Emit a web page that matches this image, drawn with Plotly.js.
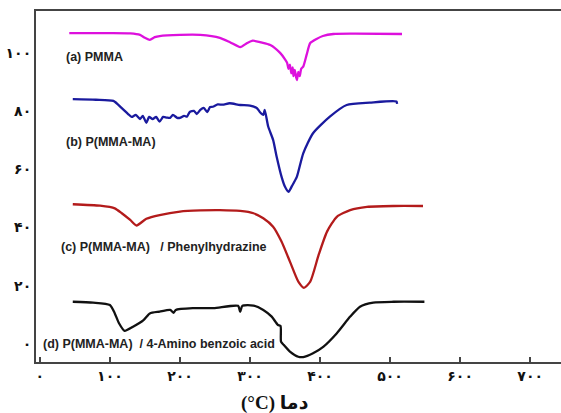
<!DOCTYPE html>
<html><head><meta charset="utf-8">
<script src="https://cdn.plot.ly/plotly-3.0.1.min.js"></script>
<style>html,body{margin:0;padding:0;background:#fff}#plot{width:561px;height:413px}</style>
</head><body><div id="plot"></div>
<script>
// Data (x: temperature °C, y: offset signal)
const xTickVals = [0, 100, 200, 300, 400, 500, 600, 700];
const xTickText = ['۰', '۱۰۰', '۲۰۰', '۳۰۰', '۴۰۰', '۵۰۰', '۶۰۰', '۷۰۰'];
const yTickVals = [0, 20, 40, 60, 80, 100];
const yTickText = ['۰', '۲۰', '۴۰', '۶۰', '۸۰', '۱۰۰'];

const seriesNames = ['(a) PMMA', '(b) P(MMA-MA)', '(c) P(MMA-MA)   / Phenylhydrazine', '(d) P(MMA-MA)  / 4-Amino benzoic acid'];

const pmmaX = [42, 100, 129, 143, 150, 157, 164, 171, 200, 229, 257, 272, 286, 296, 304, 316, 329, 343, 350, 353, 355, 357, 359, 361, 362, 364, 366, 367, 369, 371, 373, 376, 381, 386, 395, 404, 419, 450, 517];
const pmmaY = [106.8, 106.8, 106.7, 106.2, 105.2, 104.5, 105.4, 105.8, 106.2, 106.2, 105.2, 103.6, 102.0, 103.4, 104.2, 103.6, 102.7, 100.0, 97.8, 96.6, 94.5, 96.0, 93.0, 95.0, 92.0, 94.2, 91.5, 90.7, 93.5, 92.0, 94.5, 95.3, 99.5, 103.4, 104.8, 105.8, 106.5, 106.6, 106.5];

const pmaX = [47, 80, 105, 117, 126, 131, 137, 143, 147, 152, 156, 161, 166, 171, 176, 181, 186, 190, 196, 200, 206, 210, 214, 220, 224, 229, 234, 239, 243, 247, 254, 261, 271, 286, 300, 310, 314, 319, 321, 326, 333, 338, 345, 350, 355, 360, 367, 376, 390, 414, 438, 471, 509, 510];
const pmaY = [84.1, 83.9, 83.5, 81.0, 79.0, 78.0, 78.7, 77.3, 78.4, 76.0, 78.0, 77.3, 78.0, 76.4, 78.0, 77.8, 77.7, 78.7, 77.7, 77.7, 78.4, 78.1, 79.7, 80.1, 79.0, 80.4, 81.1, 79.7, 81.4, 81.5, 82.3, 82.2, 82.7, 82.1, 81.9, 81.0, 79.7, 78.7, 80.4, 74.7, 70.1, 64.4, 57.5, 54.0, 52.3, 54.3, 57.5, 65.5, 72.4, 78.1, 82.1, 82.9, 83.3, 82.5];

const phX = [47, 86, 107, 117, 129, 138, 152, 171, 200, 229, 257, 286, 305, 319, 333, 345, 357, 369, 377, 386, 398, 410, 424, 443, 467, 505, 547];
const phY = [48.0, 47.5, 46.6, 44.9, 42.6, 40.7, 43.0, 44.3, 45.5, 45.9, 46.0, 45.7, 44.9, 43.2, 40.3, 35.2, 28.3, 21.4, 19.3, 21.4, 30.6, 38.6, 43.7, 46.0, 47.1, 47.4, 47.4];

const abaX = [47, 76, 100, 107, 113, 121, 133, 148, 157, 171, 186, 191, 194, 219, 248, 283, 286, 289, 305, 319, 331, 340, 343.6, 344.3, 348, 357, 369, 376, 390, 405, 424, 443, 457, 476, 505, 549];
const abaY = [14.5, 14.2, 13.4, 10.5, 7.1, 4.5, 5.9, 8.2, 10.5, 11.1, 11.7, 10.7, 11.7, 12.3, 12.3, 13.1, 11.0, 13.1, 13.2, 11.7, 9.4, 6.5, 6.2, 0.8, -0.3, -2.6, -4.4, -4.5, -3.2, -0.9, 3.7, 9.4, 12.8, 14.2, 14.5, 14.5];

const colors = ['#dd10dd', '#1a1a9e', '#b31b1b', '#111111'];
const labelPos = [[35, 98.6], [35, 69.4], [27, 33.4], [2, 0]];

const xs = [pmmaX, pmaX, phX, abaX];
const ys = [pmmaY, pmaY, phY, abaY];
const traces = xs.map((x, i) => ({
  x: x, y: ys[i], type: 'scatter', mode: 'lines', name: seriesNames[i],
  line: {color: colors[i], width: 2.3, shape: 'spline', smoothing: 0.6},
  showlegend: false, hoverinfo: 'skip'
}));

const labelFont = {family: 'Liberation Sans, Arial, sans-serif', size: 12.5, color: '#222', weight: 'bold'};
const annotations = seriesNames.map((n, i) => ({
  x: labelPos[i][0], y: labelPos[i][1], xref: 'x', yref: 'y', text: n,
  showarrow: false, xanchor: 'left', yanchor: 'middle', font: labelFont
}));
annotations.push({
  x: 0.455, y: 0, xref: 'paper', yref: 'paper', yshift: -41, text: '(°C) دما',
  showarrow: false, xanchor: 'center', yanchor: 'middle',
  font: {family: 'Liberation Serif, DejaVu Sans, serif', size: 19, color: '#111', weight: 'bold'}
});

const layout = {
  width: 561, height: 413,
  margin: {l: 36, r: 0, t: 11, b: 51},
  paper_bgcolor: '#fff', plot_bgcolor: '#fff',
  xaxis: {
    range: [-5.5, 744], tickvals: xTickVals, ticktext: xTickText,
    ticks: 'inside', ticklen: 5, tickwidth: 1.5, tickcolor: '#444',
    showline: true, linecolor: '#444', linewidth: 2, mirror: true,
    showgrid: false, zeroline: false,
    tickfont: {family: 'DejaVu Sans, sans-serif', size: 14, color: '#111', weight: 'bold'}
  },
  yaxis: {
    range: [-6.2, 114.4], tickvals: yTickVals, ticktext: yTickText,
    ticks: '', showline: true, linecolor: '#444', linewidth: 2,
    showgrid: false, zeroline: false,
    tickfont: {family: 'DejaVu Sans, sans-serif', size: 14, color: '#111', weight: 'bold'}
  },
  annotations: annotations
};
Plotly.newPlot('plot', traces, layout, {displayModeBar: false, staticPlot: true});
</script></body></html>
